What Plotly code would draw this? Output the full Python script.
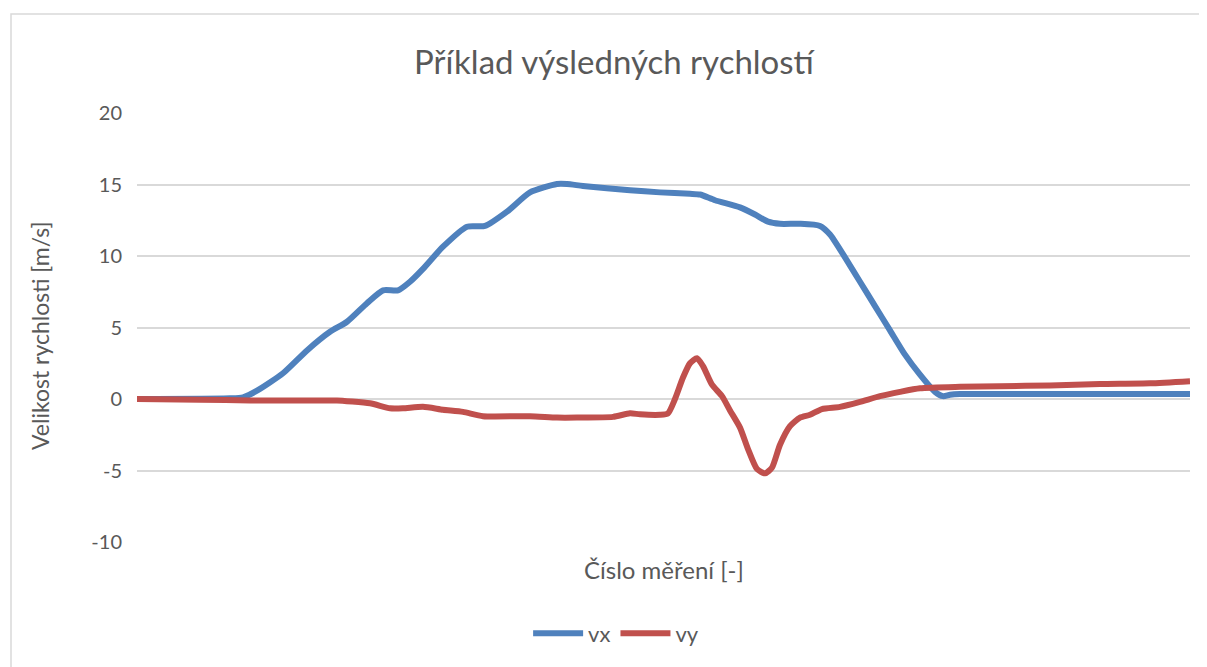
import plotly.graph_objects as go

vx_n = [0, 93, 106, 120, 146, 170, 193, 210, 230, 246, 261, 273, 286, 306, 330, 348,
        370, 393, 420, 430, 446, 493, 523, 553, 563, 578, 603, 618, 631, 643, 663, 683,
        693, 708, 723, 738, 753, 768, 783, 798, 806, 813, 823, 863, 1053]
vx = [0.0, 0.05, 0.12, 0.58, 1.8, 3.4, 4.7, 5.4, 6.7, 7.6, 7.6, 8.2, 9.1, 10.65,
      12.05, 12.1, 13.1, 14.45, 15.03, 15.03, 14.9, 14.6, 14.45, 14.35, 14.3, 13.9,
      13.4, 12.9, 12.4, 12.25, 12.25, 12.1, 11.5, 9.9, 8.2, 6.5, 4.8, 3.1, 1.7, 0.5,
      0.2, 0.3, 0.35, 0.35, 0.35]

vy_n = [0, 63, 113, 198, 200, 233, 253, 266, 286, 306, 326, 346, 393, 420, 440, 476,
        493, 503, 523, 531, 538, 546, 553, 560, 566, 575, 585, 593, 603, 611, 620, 628,
        635, 643, 653, 663, 673, 685, 703, 723, 743, 763, 783, 823, 863, 913, 963, 1013, 1053]
vy = [0.0, -0.05, -0.1, -0.1, -0.1, -0.3, -0.65, -0.65, -0.55, -0.75, -0.9, -1.2, -1.2,
      -1.3, -1.3, -1.25, -1.0, -1.07, -1.1, -1.0, 0.0, 1.5, 2.5, 2.85, 2.3, 1.0, 0.2, -0.8,
      -2.0, -3.5, -4.9, -5.2, -4.8, -3.2, -1.9, -1.3, -1.1, -0.7, -0.55, -0.2, 0.2, 0.5,
      0.75, 0.85, 0.9, 0.95, 1.05, 1.1, 1.25]

y_ticks = [-10, -5, 0, 5, 10, 15, 20]
y_tick_labels = ["-10", "-5", "0", "5", "10", "15", "20"]

fig = go.Figure()
fig.add_scatter(x=vx_n, y=vx, mode="lines", name="vx",
                line=dict(color="#4F81BD", width=6, shape="spline", smoothing=0.6))
fig.add_scatter(x=vy_n, y=vy, mode="lines", name="vy",
                line=dict(color="#C0504D", width=6, shape="spline", smoothing=0.6))

# the page body has an 8px margin, so the figure is offset by 8px
font = "Lato"
fig.update_layout(
    width=1207, height=667,
    margin=dict(l=129, r=25, t=105, b=133),
    paper_bgcolor="white", plot_bgcolor="white",
    font=dict(family=font, color="#595959"),
    title=dict(text="Příklad výsledných rychlostí", x=(614 - 8) / 1207, xanchor="center",
               y=1 - 54 / 667, yanchor="middle", font=dict(size=33, color="#595959")),
    xaxis=dict(range=[0, 1053], showticklabels=False, showgrid=False, zeroline=False,
               showline=False, ticks=""),
    yaxis=dict(range=[-10, 20], tickvals=y_ticks, ticktext=y_tick_labels,
               showgrid=True, gridcolor="#D9D9D9", gridwidth=1.5,
               zeroline=False, showline=False, ticks="", ticklabelstandoff=14,
               tickfont=dict(size=20, color="#595959")),
    showlegend=True,
    legend=dict(orientation="h", x=0.455, xanchor="center", y=-0.213, yanchor="middle",
                font=dict(size=22, color="#595959"), itemwidth=50),
    annotations=[
        dict(text="Velikost rychlosti [m/s]", xref="paper", yref="paper",
             x=(40 - 137) / 1053, y=(542 - 336) / 429, textangle=-90, showarrow=False,
             xanchor="center", yanchor="middle", font=dict(size=23, color="#595959")),
        dict(text="Číslo měření [-]", xref="paper", yref="paper",
             x=(664 - 137) / 1053, y=(542 - 569) / 429, showarrow=False,
             xanchor="center", yanchor="middle", font=dict(size=24, color="#595959")),
    ],
    shapes=[dict(type="rect", xref="paper", yref="paper",
                 x0=(11 - 137) / 1053, x1=1.2, y0=-0.5, y1=(542 - 14) / 429,
                 line=dict(color="#D9D9D9", width=1.5), layer="below")],
)

fig.write_html("out.html")
